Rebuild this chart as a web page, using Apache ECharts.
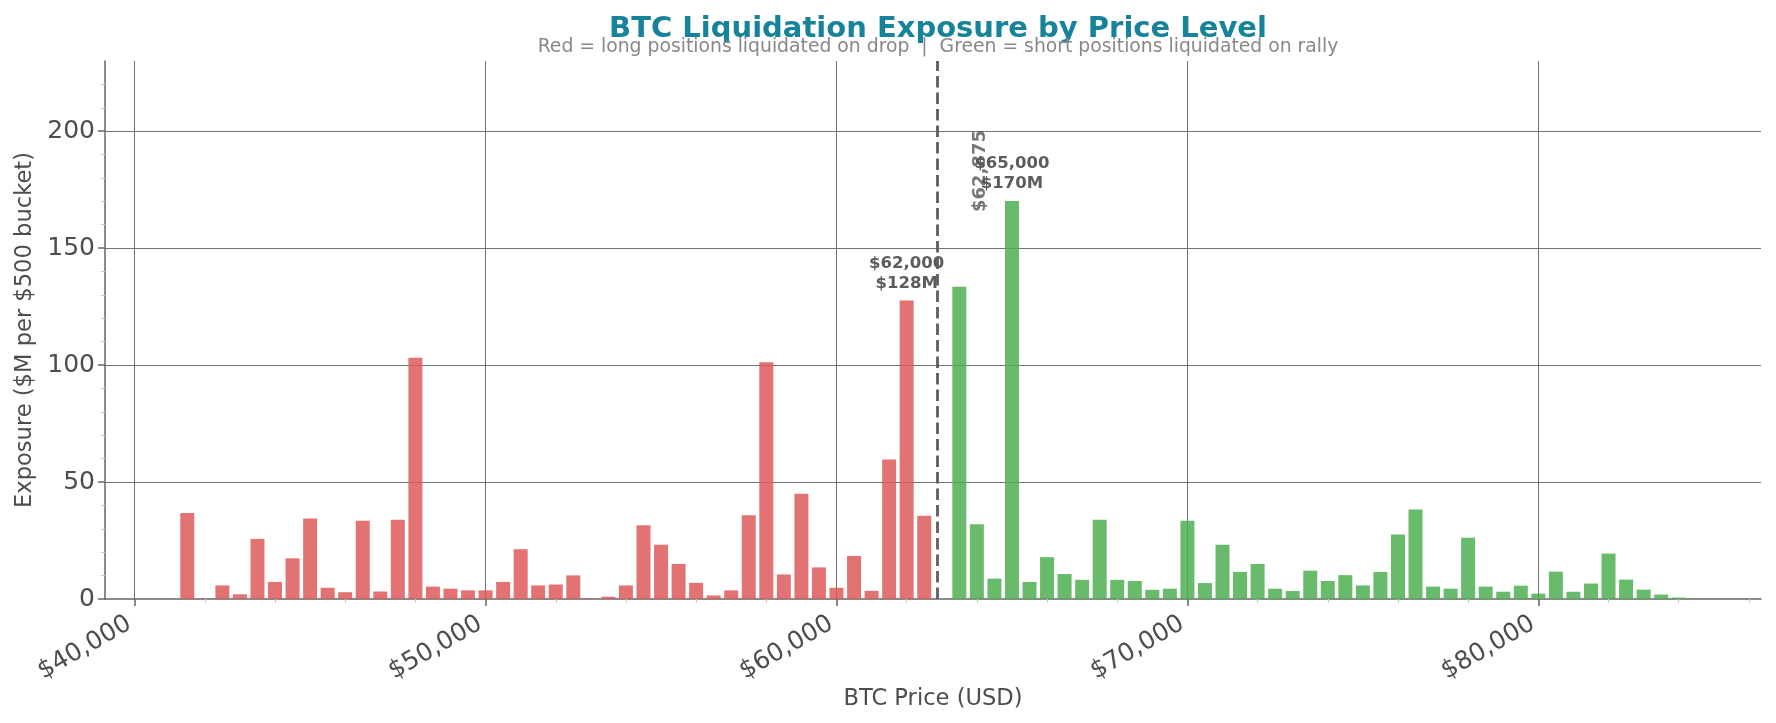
<!DOCTYPE html>
<html>
<head>
<meta charset="utf-8">
<title>BTC Liquidation Exposure by Price Level</title>
<script src="https://cdn.jsdelivr.net/npm/echarts@6/dist/echarts.min.js"></script>
<style>
  html, body { margin: 0; padding: 0; background: #fff; }
  #chart { width: 1776px; height: 723px; }
</style>
</head>
<body>
<div id="chart"></div>
<script>
// $500 buckets below current price -> long liquidations
const longPrices = [
  41500, 42000, 42500, 43000, 43500, 44000, 44500, 45000, 45500, 46000,
  46500, 47000, 47500, 48000, 48500, 49000, 49500, 50000, 50500, 51000,
  51500, 52000, 52500, 53000, 53500, 54000, 54500, 55000, 55500, 56000,
  56500, 57000, 57500, 58000, 58500, 59000, 59500, 60000, 60500, 61000,
  61500, 62000, 62500
]
const longValues = [
  36.8, 0.2, 5.8, 2.0, 25.7, 7.3, 17.4, 34.4, 4.8, 2.9,
  33.4, 3.2, 33.9, 103.1, 5.3, 4.4, 3.7, 3.7, 7.3, 21.3,
  5.8, 6.2, 10.1, 0.2, 1.0, 5.8, 31.5, 23.2, 15.0, 6.9,
  1.5, 3.7, 35.8, 101.2, 10.5, 45.0, 13.5, 4.8, 18.4, 3.5,
  59.6, 127.6, 35.6
]

// $500 buckets above current price -> short liquidations
const shortPrices = [
  63500, 64000, 64500, 65000, 65500, 66000, 66500, 67000, 67500, 68000,
  68500, 69000, 69500, 70000, 70500, 71000, 71500, 72000, 72500, 73000,
  73500, 74000, 74500, 75000, 75500, 76000, 76500, 77000, 77500, 78000,
  78500, 79000, 79500, 80000, 80500, 81000, 81500, 82000, 82500, 83000,
  83500, 84000
]
const shortValues = [
  133.5, 32.0, 8.7, 170.2, 7.3, 17.9, 10.7, 8.2, 33.9, 8.2,
  7.7, 3.9, 4.4, 33.4, 6.8, 23.2, 11.6, 15.0, 4.4, 3.4,
  12.1, 7.7, 10.2, 5.8, 11.6, 27.6, 38.3, 5.3, 4.4, 26.2,
  5.3, 3.1, 5.7, 2.3, 11.7, 3.1, 6.6, 19.4, 8.3, 4.0,
  1.9, 0.6
]

const currentPrice = 62875
const currentTag = [64100, 183]   // where the rotated price tag sits
const callouts = [62000, 65000]   // biggest bucket on each side

const xMajorTicks = [40000, 50000, 60000, 70000, 80000]
const xMinorTicks = [42000, 44000, 46000, 48000, 52000, 54000, 56000, 58000,
  62000, 64000, 66000, 68000, 72000, 74000, 76000, 78000, 82000, 84000, 86000]
const yMajorTicks = [0, 50, 100, 150, 200]
const yMinorTicks = [10, 20, 30, 40, 60, 70, 80, 90, 110, 120, 130, 140,
  160, 170, 180, 190, 210, 220]

const xMin = 39155, xMax = 86345, yMax = 230

const fmtPrice = v => '$' + v.toLocaleString('en-US')
const textColor = '#4d4d4d'
const gridColor = '#727272'

function barData(prices, values) {
  return prices.map((p, i) => {
    const item = { value: [p, values[i]] }
    if (callouts.includes(p)) {
      item.label = {
        show: true,
        position: 'top',
        distance: 7,
        formatter: fmtPrice(p) + '\n$' + Math.round(values[i]) + 'M',
        fontFamily: 'DejaVu Sans',
        fontWeight: 'bold',
        fontSize: 16.5,
        lineHeight: 20,
        color: '#3f3f3f'
      }
    }
    return item
  })
}

const chart = echarts.init(document.getElementById('chart'))

chart.setOption({
  backgroundColor: '#fff',
  animation: false,
  textStyle: { fontFamily: 'DejaVu Sans' },
  title: [
    {
      text: 'BTC Liquidation Exposure by Price Level',
      left: 933, top: 10, textAlign: 'center',
      textStyle: { fontFamily: 'DejaVu Sans', fontWeight: 'bold', fontSize: 29, color: '#17839a' }
    },
    {
      text: 'Red = long positions liquidated on drop  |  Green = short positions liquidated on rally',
      left: 933, top: 33, textAlign: 'center',
      textStyle: { fontFamily: 'DejaVu Sans', fontWeight: 'normal', fontSize: 18.8, color: '#888' }
    }
  ],
  grid: { left: 105, right: 15, top: 61, bottom: 124, containLabel: false },
  xAxis: [
    {
      type: 'value', min: xMin, max: xMax,
      name: 'BTC Price (USD)', nameLocation: 'middle', nameGap: 89, nameMoveOverlap: false,
      nameTextStyle: { fontSize: 22.6, color: textColor },
      axisLine: { show: true, lineStyle: { color: '#666', width: 1.5 } },
      axisTick: { show: true, customValues: xMajorTicks, length: 7, lineStyle: { color: '#666', width: 1.5 } },
      axisLabel: {
        customValues: xMajorTicks, rotate: 30, margin: 20, padding: [0, 6, 0, 0],
        fontSize: 25, color: textColor, formatter: fmtPrice
      },
      splitLine: { show: false }
    },
    {
      type: 'value', min: xMin, max: xMax, position: 'bottom', gridIndex: 0,
      axisLine: { show: false },
      axisTick: { show: true, customValues: xMinorTicks, length: 4, lineStyle: { color: '#c3cde0', width: 1 } },
      axisLabel: { show: false },
      splitLine: { show: false }
    }
  ],
  yAxis: [
    {
      type: 'value', min: 0, max: yMax,
      name: 'Exposure ($M per $500 bucket)', nameLocation: 'middle', nameGap: 68, nameMoveOverlap: false,
      nameTextStyle: { fontSize: 22.6, color: textColor },
      axisLine: { show: true, lineStyle: { color: '#666', width: 1.5 } },
      axisTick: { show: true, customValues: yMajorTicks, length: 7, lineStyle: { color: '#666', width: 1.5 } },
      axisLabel: { customValues: yMajorTicks, margin: 10, fontSize: 25, color: textColor },
      splitLine: { show: false }
    },
    {
      type: 'value', min: 0, max: yMax, position: 'left', gridIndex: 0,
      axisLine: { show: false },
      axisTick: { show: true, customValues: yMinorTicks, length: 4, lineStyle: { color: '#c3cde0', width: 1 } },
      axisLabel: { show: false },
      splitLine: { show: false }
    }
  ],
  series: [
    {
      // grid lines, behind the bars
      type: 'line', data: [], silent: true, z: 0,
      markLine: {
        silent: true, symbol: 'none', z: 0, animation: false,
        label: { show: false },
        lineStyle: { color: gridColor, width: 1, type: 'solid' },
        data: xMajorTicks.map(v => ({ xAxis: v }))
          .concat(yMajorTicks.filter(v => v > 0).map(v => ({ yAxis: v })))
      }
    },
    {
      name: 'Long liquidations', type: 'bar', z: 2,
      barWidth: 14, barGap: '-100%',
      itemStyle: { color: '#de5a5a', opacity: 0.85 },
      data: barData(longPrices, longValues)
    },
    {
      name: 'Short liquidations', type: 'bar', z: 2,
      barWidth: 14, barGap: '-100%',
      itemStyle: { color: '#4caf50', opacity: 0.85 },
      data: barData(shortPrices, shortValues),
      markLine: {
        silent: true, symbol: 'none', z: 5, animation: false,
        label: { show: false },
        lineStyle: { color: '#5e5e5e', width: 2.8, type: [11.5, 5] },
        data: [{ xAxis: currentPrice }]
      }
    },
    {
      type: 'scatter', silent: true, symbolSize: 0, z: 6,
      data: [currentTag],
      label: {
        show: true, position: 'inside', rotate: 90,
        formatter: fmtPrice(currentPrice),
        fontFamily: 'DejaVu Sans', fontWeight: 'bold', fontSize: 18, color: '#555'
      }
    }
  ]
})
</script>
</body>
</html>
